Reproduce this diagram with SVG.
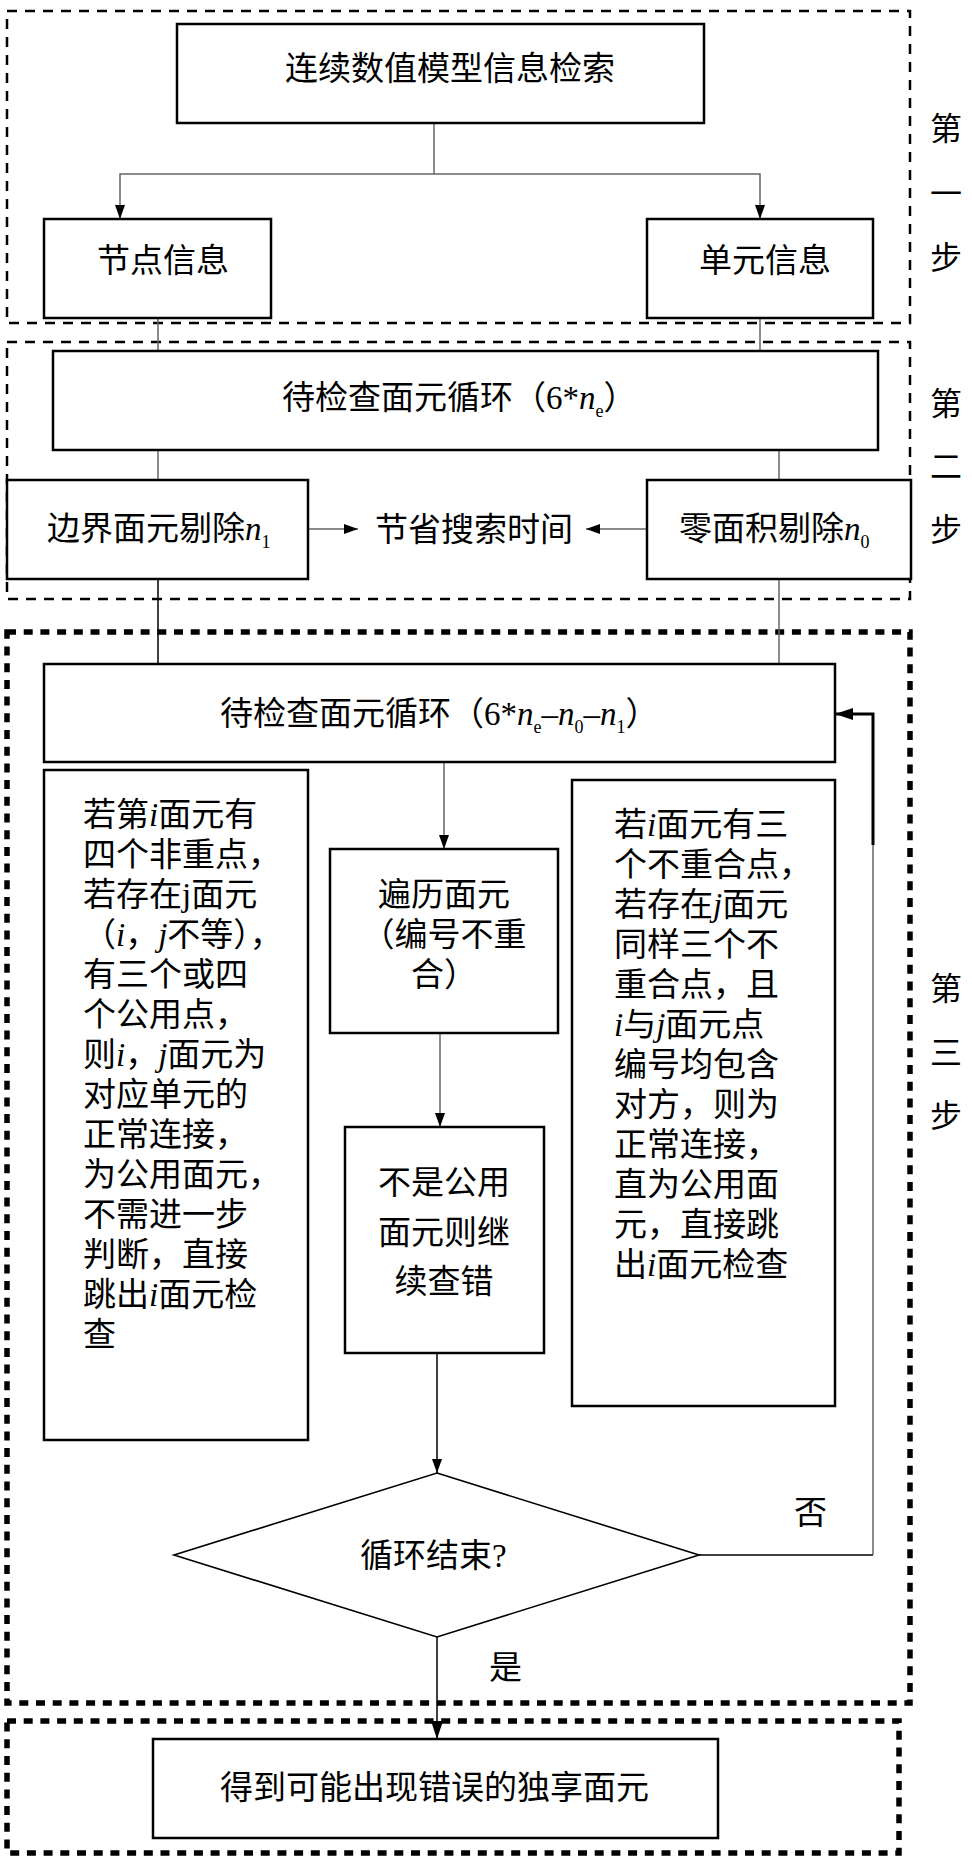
<svg xmlns="http://www.w3.org/2000/svg" width="972" height="1866" viewBox="0 0 972 1866">
<style>
.bg{fill:#fff}
.box{fill:#fff;stroke:#000;stroke-width:2.5}
.dia{fill:#fff;stroke:#000;stroke-width:1.6}
.f1{fill:none;stroke:#000;stroke-width:2.5;stroke-dasharray:10 8}
.f2{fill:none;stroke:#000;stroke-width:5.5;stroke-dasharray:9 7.7}
.conn{fill:none;stroke:#666;stroke-width:1.5}
.connk{fill:none;stroke:#000;stroke-width:1.5}
.thick{fill:none;stroke:#000;stroke-width:3}
.t{font-family:"Liberation Serif","Noto Sans CJK SC",serif;font-size:33px;fill:#000}
.side{font-family:"Liberation Serif","Noto Sans CJK SC",serif;font-size:32px;fill:#000;text-anchor:middle}
.m{text-anchor:middle}
.it{font-style:italic}
.sub{font-size:18px}
</style>
<defs>
<marker id="ah" markerUnits="userSpaceOnUse" markerWidth="14" markerHeight="10" refX="14" refY="5" orient="auto">
<path d="M0,0 L14,5 L0,10 z" fill="#000"/>
</marker>
<marker id="ahBig" markerUnits="userSpaceOnUse" markerWidth="18" markerHeight="12" refX="18" refY="6" orient="auto">
<path d="M0,0 L18,6 L0,12 z" fill="#000"/>
</marker>
</defs>
<rect class="bg" x="0" y="0" width="972" height="1866"/>

<g id="frames">
<rect id="frame-step1" class="f1" x="7" y="11" width="903" height="312"/>
<rect id="frame-step2" class="f1" x="7" y="342" width="903" height="257"/>
<rect id="frame-step3" class="f2" x="7" y="632" width="903" height="1071"/>
<rect id="frame-step4" class="f2" x="7" y="1721" width="892" height="132"/>
</g>

<g id="step-labels">
<text class="side" x="946" y="140">第</text>
<text class="side" x="946" y="205">一</text>
<text class="side" x="946" y="269">步</text>
<text class="side" x="946" y="415">第</text>
<text class="side" x="946" y="478">二</text>
<text class="side" x="946" y="541">步</text>
<text class="side" x="946" y="1000">第</text>
<text class="side" x="946" y="1064">三</text>
<text class="side" x="946" y="1127">步</text>
</g>

<g id="connectors">
<path class="conn" d="M434,123 V174"/>
<path class="conn" d="M434,174 H120 V219" marker-end="url(#ah)"/>
<path class="conn" d="M434,174 H760 V219" marker-end="url(#ah)"/>
<path class="conn" d="M158,318 V351"/>
<path class="conn" d="M760,318 V351"/>
<path class="conn" d="M158,450 V480"/>
<path class="conn" d="M779,450 V480"/>
<path class="conn" d="M308,529 H358" marker-end="url(#ah)"/>
<path class="conn" d="M647,529 H586" marker-end="url(#ah)"/>
<path class="connk" d="M158,579 V664"/>
<path class="conn" d="M779,579 V664"/>
<path class="conn" d="M444,762 V849" marker-end="url(#ah)"/>
<path class="conn" d="M440,1033 V1127" marker-end="url(#ah)"/>
<path class="connk" d="M437,1353 V1473" marker-end="url(#ah)"/>
<path class="connk" d="M437,1637 V1739" marker-end="url(#ahBig)"/>
<path class="connk" d="M699,1555 H873"/>
<path class="conn" d="M873,1555 V844"/>
<path class="thick" d="M873,845 V714 H835" marker-end="url(#ahBig)"/>
<text class="t" x="794" y="1524">否</text>
<text class="t" x="489" y="1679">是</text>
</g>

<g id="node-retrieve">
<rect class="box" x="177" y="24" width="527" height="99"/>
<text class="t" x="285" y="80">连续数值模型信息检索</text>
</g>

<g id="node-nodeinfo">
<rect class="box" x="44" y="219" width="227" height="99"/>
<text class="t" x="97" y="272">节点信息</text>
</g>

<g id="node-eleminfo">
<rect class="box" x="647" y="219" width="226" height="99"/>
<text class="t" x="699" y="272">单元信息</text>
</g>

<g id="node-loop1">
<rect class="box" x="53" y="351" width="825" height="99"/>
<text class="t" x="282" y="409">待检查面元循环（6*<tspan class="it">n</tspan><tspan class="sub" dy="8">e</tspan><tspan dy="-8">）</tspan></text>
</g>

<g id="node-boundary">
<rect class="box" x="7" y="480" width="301" height="99"/>
<text class="t" x="47" y="540">边界面元剔除<tspan class="it">n</tspan><tspan class="sub" dy="8">1</tspan></text>
</g>

<g id="node-save">
<text class="t" x="375" y="541">节省搜索时间</text>
</g>

<g id="node-zeroarea">
<rect class="box" x="647" y="480" width="264" height="99"/>
<text class="t" x="679" y="540">零面积剔除<tspan class="it">n</tspan><tspan class="sub" dy="8">0</tspan></text>
</g>

<g id="node-loop2">
<rect class="box" x="44" y="664" width="791" height="98"/>
<text class="t" x="220" y="725">待检查面元循环（6*<tspan class="it">n</tspan><tspan class="sub" dy="8">e</tspan><tspan dy="-8">–</tspan><tspan class="it">n</tspan><tspan class="sub" dy="8">0</tspan><tspan dy="-8">–</tspan><tspan class="it">n</tspan><tspan class="sub" dy="8">1</tspan><tspan dy="-8">）</tspan></text>
</g>

<g id="node-four-points">
<rect class="box" x="44" y="770" width="264" height="670"/>
<text class="t" x="83" y="826">若第<tspan class="it">i</tspan>面元有</text>
<text class="t" x="83" y="866">四个非重点，</text>
<text class="t" x="83" y="906">若存在j面元</text>
<text class="t" x="83" y="946">（<tspan class="it">i</tspan>，<tspan class="it">j</tspan>不等），</text>
<text class="t" x="83" y="986">有三个或四</text>
<text class="t" x="83" y="1026">个公用点，</text>
<text class="t" x="83" y="1066">则<tspan class="it">i</tspan>，<tspan class="it">j</tspan>面元为</text>
<text class="t" x="83" y="1106">对应单元的</text>
<text class="t" x="83" y="1146">正常连接，</text>
<text class="t" x="83" y="1186">为公用面元，</text>
<text class="t" x="83" y="1226">不需进一步</text>
<text class="t" x="83" y="1266">判断，直接</text>
<text class="t" x="83" y="1306">跳出<tspan class="it">i</tspan>面元检</text>
<text class="t" x="83" y="1346">查</text>
</g>

<g id="node-traverse">
<rect class="box" x="330" y="849" width="228" height="184"/>
<text class="t m" x="444" y="906">遍历面元</text>
<text class="t m" x="444" y="946">（编号不重</text>
<text class="t m" x="444" y="986">合）</text>
</g>

<g id="node-notshared">
<rect class="box" x="345" y="1127" width="199" height="226"/>
<text class="t m" x="444" y="1194">不是公用</text>
<text class="t m" x="444" y="1244">面元则继</text>
<text class="t m" x="444" y="1293">续查错</text>
</g>

<g id="node-three-points">
<rect class="box" x="572" y="780" width="263" height="626"/>
<text class="t" x="614" y="836">若<tspan class="it">i</tspan>面元有三</text>
<text class="t" x="614" y="876">个不重合点，</text>
<text class="t" x="614" y="916">若存在<tspan class="it">j</tspan>面元</text>
<text class="t" x="614" y="956">同样三个不</text>
<text class="t" x="614" y="996">重合点，且</text>
<text class="t" x="614" y="1036"><tspan class="it">i</tspan>与<tspan class="it">j</tspan>面元点</text>
<text class="t" x="614" y="1076">编号均包含</text>
<text class="t" x="614" y="1116">对方，则为</text>
<text class="t" x="614" y="1156">正常连接，</text>
<text class="t" x="614" y="1196">直为公用面</text>
<text class="t" x="614" y="1236">元，直接跳</text>
<text class="t" x="614" y="1276">出<tspan class="it">i</tspan>面元检查</text>
</g>

<g id="node-loopend">
<polygon class="dia" points="437,1473 699,1555 437,1637 174,1555"/>
<text class="t" x="360" y="1567">循环结束?</text>
</g>

<g id="node-result">
<rect class="box" x="153" y="1739" width="565" height="99"/>
<text class="t" x="220" y="1799">得到可能出现错误的独享面元</text>
</g>
</svg>
